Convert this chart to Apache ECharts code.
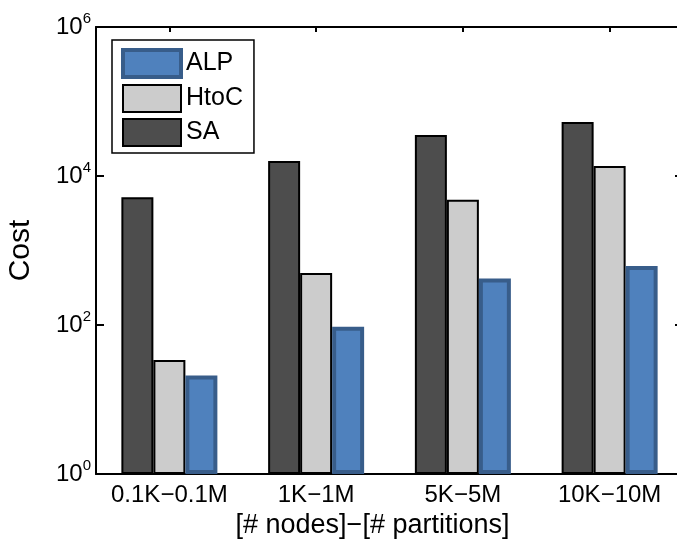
<!DOCTYPE html>
<html>
<head>
<meta charset="utf-8">
<script src="https://cdn.jsdelivr.net/npm/echarts@6/dist/echarts.min.js"></script>
<style>html,body{margin:0;padding:0;background:#fff;}#c{width:677px;height:545px;}</style>
</head>
<body>
<div id="c"></div>
<script>
const categories = ['0.1K\u22120.1M', '1K\u22121M', '5K\u22125M', '10K\u221210M'];
const saValues = [5200, 15900, 35500, 53000];
const htocValues = [34, 500, 4800, 13600];
const alpValues = [21, 95, 420, 620];
const legendOrder = ['ALP', 'HtoC', 'SA'];
const yMin = 1, yMax = 1000000;

const FONT = "'Liberation Sans', Arial, Helvetica, sans-serif";
const chart = echarts.init(document.getElementById('c'), null, {renderer: 'canvas'});

function supLabel(v) {
  const e = Math.round(Math.log10(v));
  return '{b|10}{s|' + e + '}';
}

const legendStyles = {
  ALP: {borderWidth: 4, borderColor: '#385d8a'},
  HtoC: {borderWidth: 2, borderColor: '#000'},
  SA: {borderWidth: 2, borderColor: '#000'}
};

const option = {
  backgroundColor: '#fff',
  animation: false,
  grid: {left: 96, top: 27, right: -6, bottom: 71, containLabel: false, outerBoundsMode: 'none'},
  legend: {
    orient: 'vertical',
    left: 112, top: 40,
    data: legendOrder.map(n => ({name: n, itemStyle: legendStyles[n]})),
    itemWidth: 58, itemHeight: 27, itemGap: 5,
    padding: [8, 11, 6, 9],
    borderColor: '#000', borderWidth: 1.5,
    backgroundColor: '#fff',
    textStyle: {fontFamily: FONT, fontSize: 25, color: '#000'},
    icon: 'rect'
  },
  xAxis: [{
    type: 'category', data: categories, position: 'bottom',
    axisLine: {lineStyle: {color: '#000', width: 2}},
    axisTick: {show: false},
    axisLabel: {fontFamily: FONT, fontSize: 24, color: '#000', margin: 9, interval: 0},
    name: '[# nodes]\u2212[# partitions]', nameLocation: 'middle', nameGap: 34,
    nameTextStyle: {fontFamily: FONT, fontSize: 27, color: '#000', padding: [0, 34, 0, 0]}
  }, {
    type: 'category', data: categories, position: 'top',
    axisLine: {lineStyle: {color: '#000', width: 2}},
    axisTick: {show: true, inside: true, alignWithLabel: true, length: 5, lineStyle: {color: '#000', width: 2}},
    axisLabel: {show: false}
  }],
  yAxis: [{
    type: 'log', logBase: 10, min: yMin, max: yMax, interval: 2, position: 'left',
    axisLine: {show: true, lineStyle: {color: '#000', width: 2}},
    axisTick: {show: true, inside: true, length: 8, lineStyle: {color: '#000', width: 2}},
    splitLine: {show: false},
    axisLabel: {
      margin: 5, formatter: supLabel,
      rich: {
        b: {fontFamily: FONT, fontSize: 24, color: '#000', lineHeight: 32},
        s: {fontFamily: FONT, fontSize: 15, color: '#000', lineHeight: 15, verticalAlign: 'top'}
      }
    },
    name: 'Cost', nameLocation: 'middle', nameGap: 60, nameRotate: 90,
    nameTextStyle: {fontFamily: FONT, fontSize: 30, color: '#000'}
  }, {
    type: 'log', logBase: 10, min: yMin, max: yMax, interval: 2, position: 'right',
    axisLine: {show: true, lineStyle: {color: '#000', width: 2}},
    axisTick: {show: true, inside: true, length: 8, lineStyle: {color: '#000', width: 2}},
    splitLine: {show: false},
    axisLabel: {show: false}
  }],
  series: [
    {name: 'SA', type: 'bar', data: saValues, barWidth: 32, barGap: '0%',
     itemStyle: {color: '#4d4d4d', borderColor: '#000', borderWidth: 2}},
    {name: 'HtoC', type: 'bar', data: htocValues, barWidth: 32, barGap: '0%',
     itemStyle: {color: '#cccccc', borderColor: '#000', borderWidth: 2}},
    {name: 'ALP', type: 'bar', data: alpValues, barWidth: 32, barGap: '0%',
     itemStyle: {color: '#4f81bd', borderColor: '#385d8a', borderWidth: 4}}
  ]
};
chart.setOption(option);
</script>
</body>
</html>
